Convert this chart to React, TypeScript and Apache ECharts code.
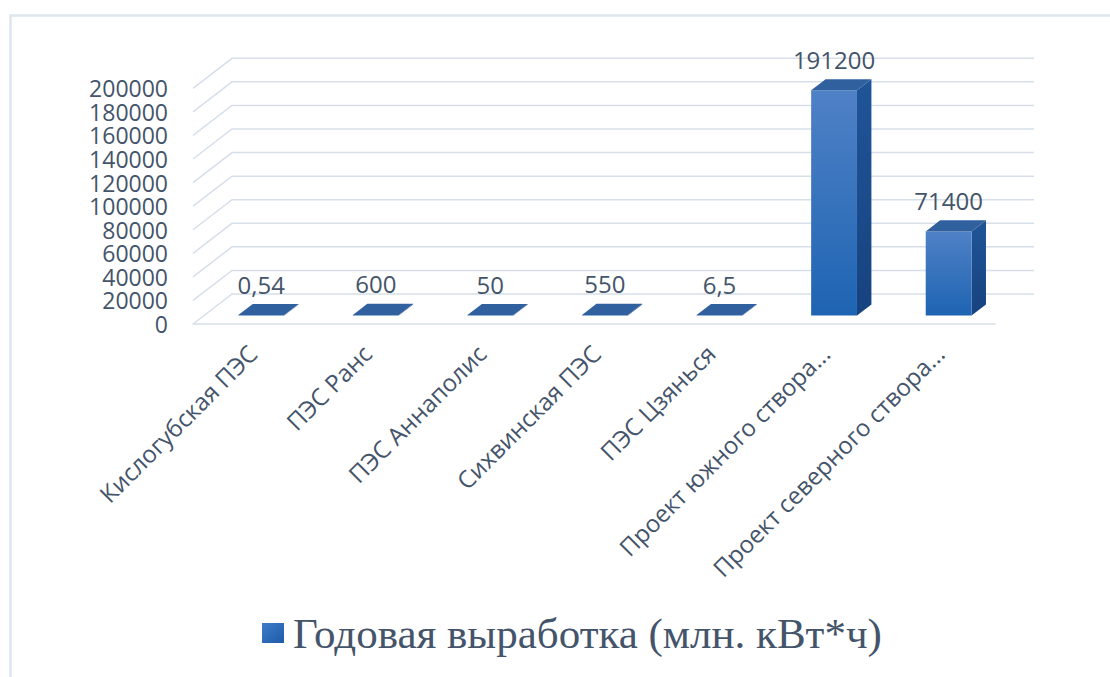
import React, { useEffect, useRef } from 'react';
import * as echarts from 'echarts';

const categories = [
  'Кислогубская ПЭС',
  'ПЭС Ранс',
  'ПЭС Аннаполис',
  'Сихвинская ПЭС',
  'ПЭС Цзянься',
  'Проект южного створа...',
  'Проект северного створа...',
];
const values = [0.54, 600, 50, 550, 6.5, 191200, 71400];
const yTicks = [0, 20000, 40000, 60000, 80000, 100000, 120000, 140000, 160000, 180000, 200000];
const seriesName = 'Годовая выработка (млн. кВт*ч)';

const DX = 39;
const DY = -30;
const F0 = 0.28;
const F1 = 0.65;
const TEXT = '#44546a';
const GRIDC = '#d6dfea';

const fmt = (v: number) => String(v).replace('.', ',');

export default function App() {
  const ref = useRef<HTMLDivElement>(null);
  useEffect(() => {
    const chart = echarts.init(ref.current!, undefined, { renderer: 'svg' });
    chart.setOption({
      animation: false,
      backgroundColor: '#ffffff',
      graphic: [
        {
          type: 'rect',
          shape: { x: 10.5, y: 15.5, width: 1300, height: 900 },
          style: { fill: null, stroke: '#dde6ee', lineWidth: 2.5 },
          silent: true,
          z: -10,
        },
      ],
      grid: [
        { left: 193, right: 115, top: 88.3, bottom: 353 },
        { left: 193 + 2, right: 115 - 2, top: 88.3, bottom: 353 },
      ],
      xAxis: [
        {
          type: 'category',
          data: categories,
          gridIndex: 0,
          axisLine: { show: true, lineStyle: { color: GRIDC, width: 1.5 } },
          axisTick: { show: false },
          axisLabel: { show: false },
          splitLine: { show: false },
        },
        {
          type: 'category',
          data: categories,
          gridIndex: 1,
          axisLine: { show: false },
          axisTick: { show: false },
          axisLabel: {
            show: true,
            interval: 0,
            rotate: 45,
            margin: 25,
            fontSize: 24,
            fontFamily: 'Open Sans',
            color: TEXT,
          },
        },
      ],
      yAxis: [
        {
          type: 'value',
          gridIndex: 0,
          min: 0,
          max: 200000,
          interval: 20000,
          axisLine: { show: false },
          axisTick: { show: false },
          splitLine: { show: false },
          axisLabel: { show: false },
        },
        {
          type: 'value',
          gridIndex: 1,
          min: 0,
          max: 200000,
          show: false,
        },
      ],
      legend: {
        left: 262,
        top: 608,
        padding: 0,
        icon: 'rect',
        itemWidth: 22,
        itemHeight: 20,
        data: [
          {
            name: seriesName,
            itemStyle: {
              color: {
                type: 'linear', x: 0, y: 0, x2: 1, y2: 1,
                colorStops: [
                  { offset: 0, color: '#3f7cc9' },
                  { offset: 1, color: '#1d5aa8' },
                ],
              },
            },
          },
        ],
        textStyle: {
          fontSize: 43,
          fontFamily: 'Liberation Serif',
          color: TEXT,
          lineHeight: 44,
          padding: [6, 0, 0, 4],
        },
      },
      series: [
        {
          type: 'custom',
          xAxisIndex: 0,
          yAxisIndex: 0,
          silent: true,
          data: yTicks.map((v) => [0, v]),
          encode: { x: 0, y: 1 },
          renderItem: (params: any, api: any) => {
            const v = api.value(1);
            const cs = params.coordSys;
            const y = api.coord([0, v])[1];
            return {
              type: 'group',
              children: [
                {
                  type: 'polyline',
                  shape: {
                    points: [
                      [cs.x, y],
                      [cs.x + DX, y + DY],
                      [cs.x + cs.width + DX, y + DY],
                    ],
                  },
                  style: { stroke: GRIDC, lineWidth: 1.5, fill: null },
                },
                {
                  type: 'text',
                  style: {
                    text: String(v),
                    x: cs.x - 25,
                    y,
                    align: 'right',
                    verticalAlign: 'middle',
                    fontSize: 23,
                    lineHeight: 20,
                    fontFamily: 'Open Sans',
                    fill: TEXT,
                  },
                },
              ],
            };
          },
          z: 1,
        },
        {
          type: 'custom',
          name: seriesName,
          xAxisIndex: 0,
          yAxisIndex: 0,
          silent: true,
          itemStyle: { color: '#2a66b5' },
          data: values.map((v, i) => [i, v]),
          encode: { x: 0, y: 1 },
          renderItem: (params: any, api: any) => {
            const i = api.value(0);
            const v = api.value(1);
            const base = api.coord([i, 0]);
            const top = api.coord([i, v]);
            const band = api.size([1, 0])[0];
            const w = band * 0.4;
            const ox = DX * F0;
            const oy = DY * F0;
            const dx = DX * (F1 - F0);
            const dy = DY * (F1 - F0);
            const xl = base[0] - w / 2 + ox;
            const xr = base[0] + w / 2 + ox;
            const yb = base[1] + oy;
            const yt = Math.min(top[1] + oy, yb - 0.6);
            return {
              type: 'group',
              children: [
                {
                  type: 'polygon',
                  shape: { points: [[xr, yb], [xr + dx, yb + dy], [xr + dx, yt + dy], [xr, yt]] },
                  style: {
                    fill: {
                      type: 'linear', x: 0, y: 0, x2: 0, y2: 1,
                      colorStops: [
                        { offset: 0, color: '#1f5598' },
                        { offset: 1, color: '#17427f' },
                      ],
                    },
                  },
                },
                {
                  type: 'rect',
                  shape: { x: xl, y: yt, width: w, height: yb - yt },
                  style: {
                    fill: {
                      type: 'linear', x: 0, y: 0, x2: 0, y2: 1,
                      colorStops: [
                        { offset: 0, color: '#4f81c6' },
                        { offset: 1, color: '#1e64b2' },
                      ],
                    },
                  },
                },
                {
                  type: 'polygon',
                  shape: { points: [[xl, yt], [xr, yt], [xr + dx, yt + dy], [xl + dx, yt + dy]] },
                  style: { fill: '#31609f' },
                },
                {
                  type: 'text',
                  style: {
                    text: fmt(v),
                    x: (xl + xr) / 2,
                    y: yt - 31,
                    align: 'center',
                    verticalAlign: 'middle',
                    fontSize: 24,
                    fontFamily: 'Open Sans',
                    fill: TEXT,
                  },
                },
              ],
            };
          },
          z: 2,
        },
      ],
    });
    return () => chart.dispose();
  }, []);
  return (
    <div
      ref={ref}
      style={{ position: 'absolute', left: 0, top: 0, width: 1110, height: 677 }}
    />
  );
}
